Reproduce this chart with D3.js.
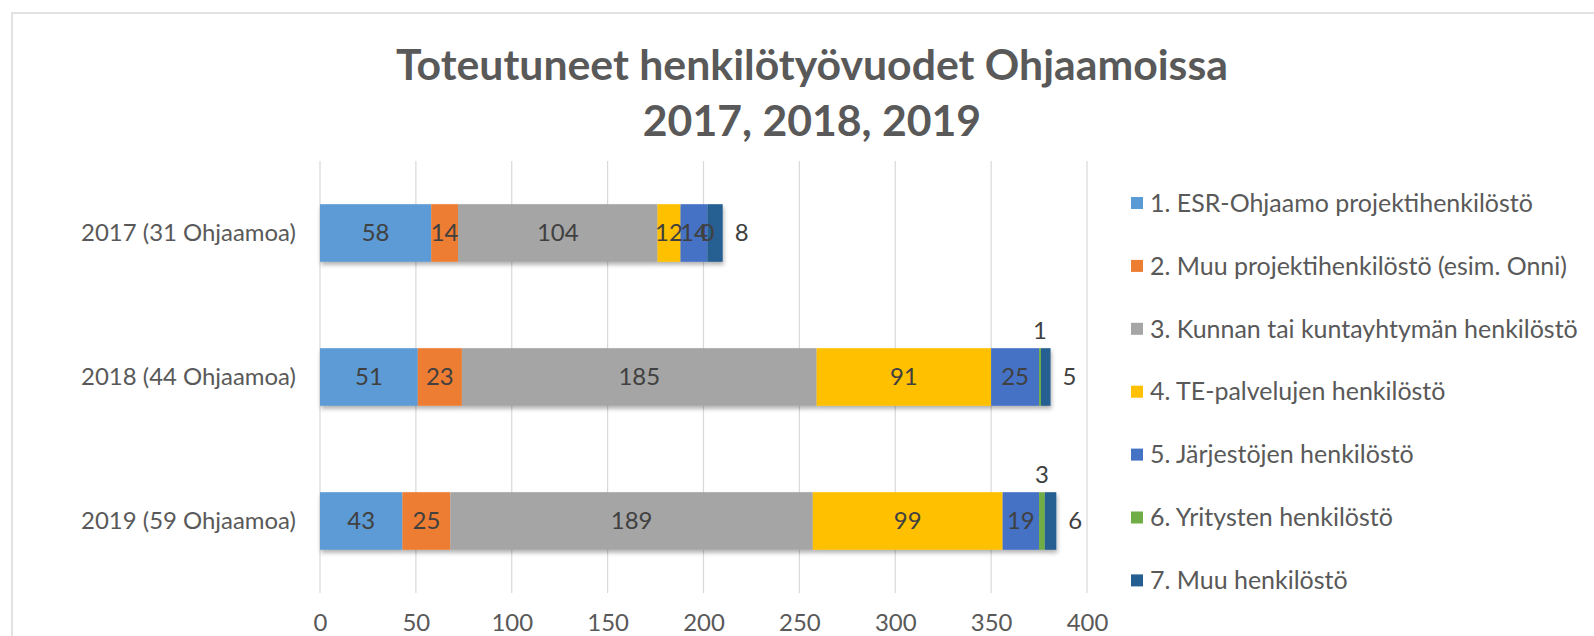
<!DOCTYPE html>
<html>
<head>
<meta charset="utf-8">
<script src="https://cdn.jsdelivr.net/npm/d3@7"></script>
<style>
  body { margin: 0; background: #fff; }
  svg { display: block; font-family: Lato, "Open Sans", sans-serif; }
</style>
</head>
<body>
<div id="chart"></div>
<script>
const categories = ["2017 (31 Ohjaamoa)", "2018 (44 Ohjaamoa)", "2019 (59 Ohjaamoa)"];
const seriesNames = [
    "1. ESR-Ohjaamo projektihenkilöstö",
    "2. Muu projektihenkilöstö (esim. Onni)",
    "3. Kunnan tai kuntayhtymän henkilöstö",
    "4. TE-palvelujen henkilöstö",
    "5. Järjestöjen henkilöstö",
    "6. Yritysten henkilöstö",
    "7. Muu henkilöstö"
];
const esrOhjaamo = [58, 51, 43];
const muuProjekti = [14, 23, 25];
const kunta = [104, 185, 189];
const tePalvelut = [12, 91, 99];
const jarjestot = [14, 25, 19];
const yritykset = [0, 1, 3];
const muuHenkilosto = [8, 5, 6];
const xTicks = [0, 50, 100, 150, 200, 250, 300, 350, 400];
const titleLines = ["Toteutuneet henkilötyövuodet Ohjaamoissa", "2017, 2018, 2019"];

const colors = ["#5B9BD5", "#ED7D31", "#A5A5A5", "#FFC000", "#4472C4", "#70AD47", "#255E91"];
const allSeries = [esrOhjaamo, muuProjekti, kunta, tePalvelut, jarjestot, yritykset, muuHenkilosto];

const width = 1594, height = 636;
const plot = { left: 320, right: 1087, top: 161, bottom: 593 };

const rows = categories.map((c, i) => {
    const row = { category: c };
    seriesNames.forEach((s, j) => row[s] = allSeries[j][i]);
    return row;
});
const stacked = d3.stack().keys(seriesNames)(rows);

const svg = d3.select("#chart")
    .append("svg")
    .attr("width", width)
    .attr("height", height);

// shadow under bars
const defs = svg.append("defs");
defs.append("filter")
    .attr("id", "shadow")
    .attr("x", "-5%").attr("y", "-20%")
    .attr("width", "110%").attr("height", "150%")
    .append("feDropShadow")
    .attr("dx", 1).attr("dy", 3)
    .attr("stdDeviation", 2)
    .attr("flood-color", "#000")
    .attr("flood-opacity", 0.3);

// outer frame
svg.append("rect")
    .attr("x", 12).attr("y", 13)
    .attr("width", 1620).attr("height", 700)
    .attr("fill", "none")
    .attr("stroke", "#d9d9d9")
    .attr("stroke-width", 1.5);

// fit a text element to a target width
function fitSize(text, weight, target) {
    const t = svg.append("text")
        .attr("font-size", 20)
        .attr("font-weight", weight)
        .text(text);
    const w = t.node().getComputedTextLength();
    t.remove();
    return 20 * target / w;
}

const titleSize = fitSize(titleLines[0], "bold", 832);
const labelSize = fitSize(categories[0], "normal", 215);
const legendSize = fitSize(seriesNames[0], "normal", 383);

const xScale = d3.scaleLinear()
    .domain([0, 400])
    .range([plot.left, plot.right]);

const yScale = d3.scaleBand()
    .domain(categories)
    .range([plot.top, plot.bottom])
    .paddingInner(0.6)
    .paddingOuter(0.3);

// title
svg.append("g")
    .selectAll("text")
    .data(titleLines)
    .enter().append("text")
    .attr("x", 812)
    .attr("y", (d, i) => 80 + i * 56)
    .attr("text-anchor", "middle")
    .attr("font-size", titleSize)
    .attr("font-weight", "bold")
    .attr("fill", "#595959")
    .text(d => d);

// vertical gridlines
svg.append("g")
    .selectAll("line")
    .data(xTicks)
    .enter().append("line")
    .attr("x1", d => xScale(d)).attr("x2", d => xScale(d))
    .attr("y1", plot.top).attr("y2", plot.bottom)
    .attr("stroke", "#d9d9d9")
    .attr("stroke-width", 1.2);

// x axis labels
const xAxis = svg.append("g")
    .attr("transform", `translate(0,${plot.bottom})`)
    .call(d3.axisBottom(xScale).tickValues(xTicks).tickSize(0).tickPadding(21));
xAxis.select(".domain").remove();
xAxis.selectAll("text")
    .attr("font-family", "Lato, 'Open Sans', sans-serif")
    .attr("font-size", labelSize)
    .attr("fill", "#595959");

// category labels
const yAxis = svg.append("g")
    .attr("transform", `translate(${plot.left},0)`)
    .call(d3.axisLeft(yScale).tickSize(0).tickPadding(24));
yAxis.select(".domain").remove();
yAxis.selectAll("text")
    .attr("font-family", "Lato, 'Open Sans', sans-serif")
    .attr("font-size", labelSize)
    .attr("fill", "#595959");

// bars
const bars = svg.append("g").attr("filter", "url(#shadow)");
bars.selectAll("g")
    .data(stacked)
    .enter().append("g")
    .attr("fill", (d, i) => colors[i])
    .selectAll("rect")
    .data(d => d)
    .enter().append("rect")
    .attr("x", d => xScale(d[0]))
    .attr("y", d => yScale(d.data.category))
    .attr("width", d => xScale(d[1]) - xScale(d[0]))
    .attr("height", yScale.bandwidth());

// value labels
const labels = [];
stacked.forEach((s, i) => {
    s.forEach(d => {
        const v = d[1] - d[0];
        const cy = yScale(d.data.category) + yScale.bandwidth() / 2;
        let x = (xScale(d[0]) + xScale(d[1])) / 2;
        let y = cy;
        let anchor = "middle";
        if (i === 6) {
            x = xScale(d[1]) + 12;
            anchor = "start";
        } else if (i === 5 && v > 0) {
            y = yScale(d.data.category) - 18;
        }
        labels.push({ x, y, anchor, text: v });
    });
});
svg.append("g")
    .selectAll("text")
    .data(labels)
    .enter().append("text")
    .attr("x", d => d.x)
    .attr("y", d => d.y)
    .attr("dy", "0.35em")
    .attr("text-anchor", d => d.anchor)
    .attr("font-size", labelSize)
    .attr("fill", "#404040")
    .text(d => d.text);

// legend
const legend = svg.append("g")
    .selectAll("g")
    .data(seriesNames)
    .enter().append("g")
    .attr("transform", (d, i) => `translate(1131,${203 + i * 62.9})`);
legend.append("rect")
    .attr("x", 0).attr("y", -6)
    .attr("width", 12).attr("height", 12)
    .attr("fill", (d, i) => colors[i]);
legend.append("text")
    .attr("x", 19)
    .attr("dy", "0.35em")
    .attr("font-size", legendSize)
    .attr("fill", "#595959")
    .text(d => d);
</script>
</body>
</html>
